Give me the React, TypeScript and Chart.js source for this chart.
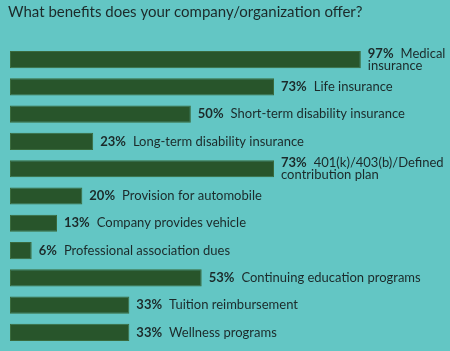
import React, { useEffect, useRef } from "react";
import { Chart, registerables } from "chart.js";

Chart.register(...registerables);

const TITLE = "What benefits does your company/organization offer?";
const categories: string[][] = [
  ["Medical", "insurance"],
  ["Life insurance"],
  ["Short-term disability insurance"],
  ["Long-term disability insurance"],
  ["401(k)/403(b)/Defined", "contribution plan"],
  ["Provision for automobile"],
  ["Company provides vehicle"],
  ["Professional association dues"],
  ["Continuing education programs"],
  ["Tuition reimbursement"],
  ["Wellness programs"],
];
const values: number[] = [97, 73, 50, 23, 73, 20, 13, 6, 53, 33, 33];

const BG = "#63c6c4";
const BAR = "#28552b";
const TEXT = "#1c2a2a";
const FONT = "Lato, sans-serif";

export default function App() {
  const ref = useRef<HTMLCanvasElement | null>(null);
  useEffect(() => {
    document.body.style.margin = "0";
    document.body.style.background = BG;
    const canvas = ref.current!;
    const labelsPlugin = {
      id: "labelsPlugin",
      beforeDraw(chart: any) {
        const { ctx } = chart;
        ctx.save();
        ctx.fillStyle = BG;
        ctx.fillRect(0, 0, chart.width, chart.height);
        ctx.restore();
      },
      afterDraw(chart: any) {
        const { ctx } = chart;
        const xs = chart.scales.x;
        const ys = chart.scales.y;
        ctx.save();
        ctx.fillStyle = TEXT;
        ctx.textBaseline = "middle";
        ctx.textAlign = "left";
        ctx.font = `15px ${FONT}`;
        ctx.fillText(TITLE, 8, 12);
        values.forEach((v, i) => {
          const x = xs.getPixelForValue(v) + 7;
          const yc = ys.getPixelForValue(i);
          const lines = categories[i];
          const lh = 12;
          const y0 = yc - ((lines.length - 1) * lh) / 2;
          ctx.font = `bold 13px ${FONT}`;
          const pct = `${v}%`;
          ctx.fillText(pct, x, y0);
          const pw = ctx.measureText(pct).width;
          ctx.font = `13px ${FONT}`;
          lines.forEach((ln, k) => {
            ctx.fillText(ln, k === 0 ? x + pw + 7 : x, y0 + k * lh);
          });
        });
        ctx.restore();
      },
    };
    const chart = new Chart(canvas, {
      type: "bar",
      data: {
        labels: categories.map((c) => c.join(" ")),
        datasets: [
          {
            data: values,
            backgroundColor: BAR,
            borderColor: "#3a6a3d",
            borderWidth: 1,
            borderSkipped: false,
            barPercentage: 0.63,
            categoryPercentage: 1,
          },
        ],
      },
      options: {
        indexAxis: "y",
        responsive: false,
        animation: false,
        layout: { padding: { left: 10, right: 6, top: 46, bottom: 5 } },
        plugins: { legend: { display: false }, title: { display: false }, tooltip: { enabled: false } },
        scales: {
          x: { display: false, min: 0, max: 120 },
          y: { display: false },
        },
      },
      plugins: [labelsPlugin],
    });
    return () => chart.destroy();
  }, []);
  return <canvas ref={ref} width={450} height={351} style={{ display: "block" }} />;
}
